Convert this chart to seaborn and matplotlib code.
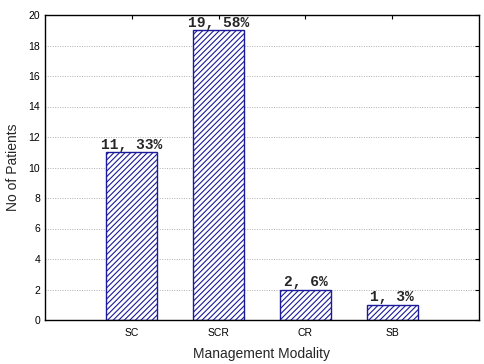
import matplotlib
matplotlib.use("Agg")
import matplotlib.pyplot as plt
import seaborn as sns
import pandas as pd

# data
modalidades = ["SC", "SCR", "CR", "SB"]
pacientes = [11, 19, 2, 1]
percentuais = [33, 58, 6, 3]

sns.set_style("white")
plt.rcParams["font.family"] = ["Liberation Sans", "DejaVu Sans"]
plt.rcParams["hatch.color"] = "#1a1a9a"
plt.rcParams["hatch.linewidth"] = 0.8

df = pd.DataFrame({"Modalidade": modalidades, "Pacientes": pacientes})

fig = plt.figure(figsize=(4.85, 3.64), dpi=100)
ax = fig.add_axes([45 / 485, 1 - 320 / 364, 434 / 485, 305 / 364])

sns.barplot(data=df, x="Modalidade", y="Pacientes", ax=ax, color="white",
            width=0.59, edgecolor="#1a1a9a", linewidth=1.0, hatch="//////")

for i, (n, p) in enumerate(zip(pacientes, percentuais)):
    ax.text(i, n + 0.02, f"{n}, {p}%", ha="center", va="bottom",
            family=["Liberation Mono", "DejaVu Sans Mono"], fontweight="bold",
            fontsize=10.5)

ax.set_xlim(-1, 4)
ax.set_ylim(0, 20)
ax.set_yticks(range(0, 21, 2))
ax.yaxis.grid(True, linestyle=(0, (1, 1.5)), color="#b0b0b0", linewidth=0.7)
ax.set_axisbelow(True)
ax.tick_params(axis="both", direction="in", length=3, labelsize=7.5,
               top=True, right=True, width=0.8, colors="black")
ax.tick_params(axis="x", pad=6)
for s in ax.spines.values():
    s.set_color("black")
    s.set_linewidth(1.0)

ax.set_xlabel("Management Modality", fontsize=10, labelpad=6)
ax.set_ylabel("No of Patients", fontsize=10, labelpad=6)

fig.savefig("out.png", dpi=100)
plt.close(fig)
